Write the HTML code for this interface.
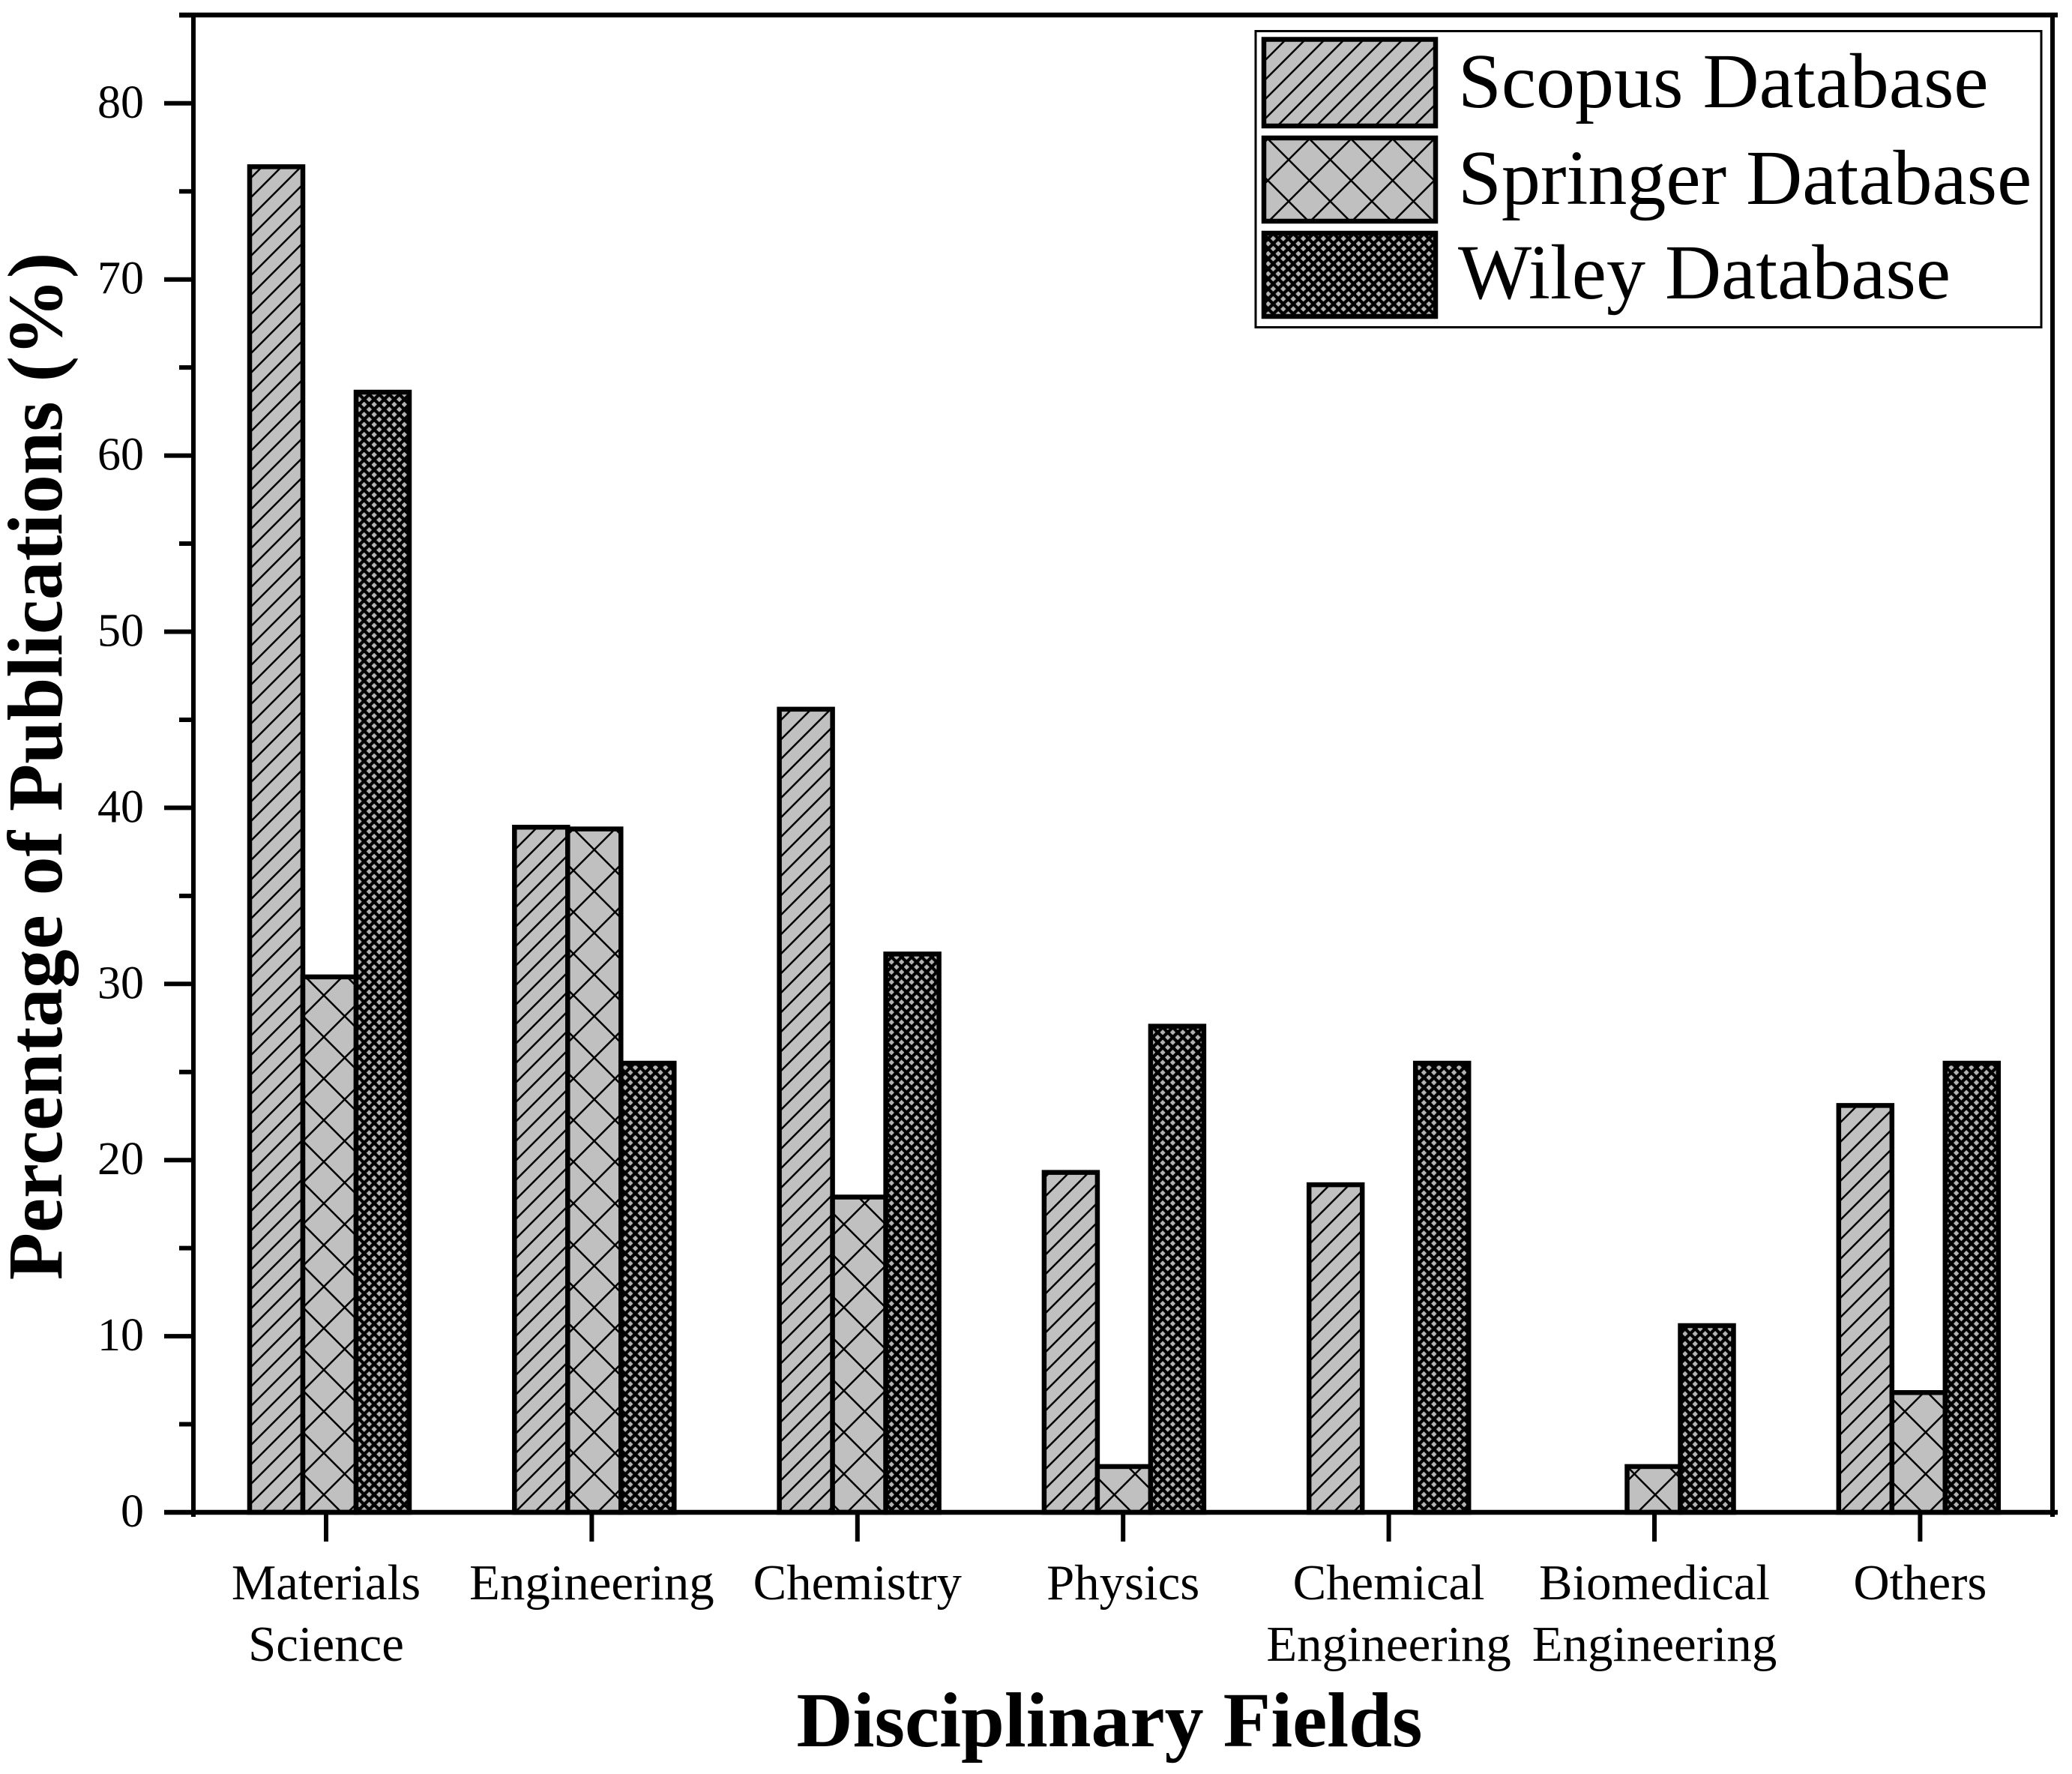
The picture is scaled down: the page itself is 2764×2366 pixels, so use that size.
<!DOCTYPE html>
<html lang="en">
<head>
<meta charset="utf-8">
<title>Percentage of Publications by Disciplinary Field</title>
<style>
  html, body { margin: 0; padding: 0; background: #fff; }
  svg { display: block; }
  text { font-family: "Liberation Serif", "Times New Roman", serif; fill: #000; }
</style>
</head>
<body>
<svg id="chart" xmlns="http://www.w3.org/2000/svg" width="2764" height="2366" viewBox="0 0 2764 2366">
  <defs>
    <pattern id="hatch-scopus" patternUnits="userSpaceOnUse" width="26" height="26">
      <rect width="26" height="26" fill="#c0c0c0"/>
      <path d="M-4 30L30 -4M-4 4L4 -4M22 30L30 22" stroke="#000" stroke-width="2.5" fill="none"/>
    </pattern>
    <pattern id="hatch-springer" patternUnits="userSpaceOnUse" width="55.5" height="55.5" patternTransform="translate(43.5 51)">
      <rect width="55.5" height="55.5" fill="#c0c0c0"/>
      <path d="M0 0L55.5 55.5M0 55.5L55.5 0" stroke="#000" stroke-width="2.5" fill="none"/>
    </pattern>
    <pattern id="hatch-springer-legend" patternUnits="userSpaceOnUse" width="55.5" height="55.5" patternTransform="translate(1719 213)">
      <rect width="55.5" height="55.5" fill="#c0c0c0"/>
      <path d="M0 0L55.5 55.5M0 55.5L55.5 0" stroke="#000" stroke-width="2.5" fill="none"/>
    </pattern>
    <pattern id="hatch-wiley" patternUnits="userSpaceOnUse" width="13.4" height="13.4">
      <rect width="13.4" height="13.4" fill="#000"/>
      <path d="M3.35 -0.35L7.05 3.35L3.35 7.05L-0.35 3.35ZM10.05 6.35L13.75 10.05L10.05 13.75L6.35 10.05Z" fill="#b4b4b4"/>
    </pattern>
  </defs>

  <g id="bars"></g>
  <g id="axes"></g>
  <g id="y-labels"></g>
  <g id="x-labels"></g>

  <text transform="translate(82 1022) rotate(-90)" text-anchor="middle" font-size="103.6" font-weight="700">Percentage of Publications (%)</text>
  <text x="1480" y="2329" text-anchor="middle" font-size="104" font-weight="700">Disciplinary Fields</text>

  <g>
    <rect x="1675" y="41.5" width="1048" height="395" fill="#fff" stroke="#000" stroke-width="3"/>
    <g>
      <rect x="1686" y="52.5" width="229" height="115.5" fill="url(#hatch-scopus)" stroke="#000" stroke-width="6.5"/>
      <text x="1945" y="143" font-size="104">Scopus Database</text>
    </g>
    <g>
      <rect x="1686" y="184" width="229" height="111" fill="url(#hatch-springer-legend)" stroke="#000" stroke-width="6.5"/>
      <text x="1945" y="272" font-size="104">Springer Database</text>
    </g>
    <g>
      <rect x="1686" y="311" width="229" height="111" fill="url(#hatch-wiley)" stroke="#000" stroke-width="6.5"/>
      <text x="1945" y="398" font-size="104">Wiley Database</text>
    </g>
  </g>
</svg>

<script>
const categories = [
  ["Materials", "Science"],
  ["Engineering"],
  ["Chemistry"],
  ["Physics"],
  ["Chemical", "Engineering"],
  ["Biomedical", "Engineering"],
  ["Others"]
];
const scopusValues = [76.4, 38.9, 45.6, 19.3, 18.6, 0, 23.1];
const springerValues = [30.4, 38.8, 17.9, 2.6, 0, 2.6, 6.8];
const wileyValues = [63.6, 25.5, 31.7, 27.6, 25.5, 10.6, 25.5];
const majorTicks = [0, 10, 20, 30, 40, 50, 60, 70, 80];
const minorTicks = [5, 15, 25, 35, 45, 55, 65, 75, 85];

const NS = "http://www.w3.org/2000/svg";
const yScale = v => 2017 - v * 23.49;
const tickX = i => 435 + i * 354.4;
const groupX = i => 439.5 + i * 353.3;
const BAR_W = 71;
const barLeft = (i, s) => groupX(i) + (s - 1.5) * BAR_W;

function make(tag, attrs, parent) {
  const el = document.createElementNS(NS, tag);
  for (const k in attrs) el.setAttribute(k, attrs[k]);
  parent.appendChild(el);
  return el;
}

const barsG = document.getElementById("bars");
const axesG = document.getElementById("axes");
const yLabelsG = document.getElementById("y-labels");
const xLabelsG = document.getElementById("x-labels");

function drawSeries(values, seriesIndex, seriesName, patternId) {
  values.forEach((v, i) => {
    const el = make("rect", {
      x: barLeft(i, seriesIndex),
      y: yScale(v),
      width: BAR_W,
      height: yScale(0) - yScale(v),
      fill: "url(#" + patternId + ")",
      stroke: "#000",
      "stroke-width": 6.5
    }, barsG);
    
    
  });
}
drawSeries(scopusValues, 0, "scopus", "hatch-scopus");
drawSeries(springerValues, 1, "springer", "hatch-springer");
drawSeries(wileyValues, 2, "wiley", "hatch-wiley");

function axisLine(x1, y1, x2, y2, w, name) {
  const el = make("line", { x1, y1, x2, y2, stroke: "#000", "stroke-width": w }, axesG);
  
  
}
axisLine(239, 20, 2745, 20, 6.5, "top-axis-line");
axisLine(2738, 20, 2738, 2023, 6, "right-axis-line");
axisLine(258, 20, 258, 2023, 6, "y-axis-line");
axisLine(219, 2017, 2745, 2017, 6.5, "x-axis-line");

majorTicks.forEach(v => {
  axisLine(219, yScale(v), 258, yScale(v), 6, "y-major-tick-" + v);
  const t = make("text", { x: 192, y: yScale(v) + 19, "text-anchor": "end", "font-size": 62 }, yLabelsG);
  t.textContent = String(v);
  
  
});
minorTicks.forEach(v => {
  axisLine(239, yScale(v), 258, yScale(v), 6, "y-minor-tick-" + v);
});

categories.forEach((lines, i) => {
  axisLine(tickX(i), 2017, tickX(i), 2056, 6, "x-tick-" + i);
  lines.forEach((line, j) => {
    const t = make("text", { x: tickX(i), y: 2133 + j * 82, "text-anchor": "middle", "font-size": 66.8 }, xLabelsG);
    t.textContent = line;
    
    
  });
});
</script>
</body>
</html>
